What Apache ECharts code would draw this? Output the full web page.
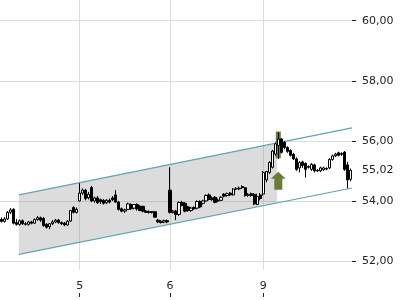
<!DOCTYPE html>
<html><head><meta charset="utf-8">
<script src="https://cdn.jsdelivr.net/npm/echarts@6/dist/echarts.min.js"></script>
<style>html,body{margin:0;padding:0;background:#fff}#c{width:400px;height:300px}</style>
</head><body><div id="c"></div>
<script>
// ---- data ----
const opens = [53.38,53.32,53.40,53.62,53.72,53.28,53.22,53.34,53.24,53.22,53.30,53.26,53.38,53.44,53.42,53.22,53.14,53.24,53.30,53.36,53.28,53.26,53.20,53.33,53.78,53.62,
54.00,54.26,54.36,54.10,54.45,54.00,54.10,54.04,54.02,53.94,54.02,54.10,54.20,53.96,53.74,53.66,53.72,53.88,53.76,53.88,53.82,53.82,53.66,53.64,53.62,53.64,53.36,53.28,53.30,53.34,
54.36,53.62,53.66,53.55,53.95,53.92,53.80,53.68,53.78,53.76,53.98,53.92,54.00,54.20,54.10,54.12,54.00,54.02,54.22,54.18,54.26,54.20,54.40,54.42,54.48,54.44,54.18,54.24,54.22,53.88,54.20,
54.23,54.70,54.95,55.12,55.56,55.84,56.06,55.95,55.78,55.68,55.55,55.40,55.10,55.30,55.25,55.12,55.05,55.20,55.00,55.00,55.04,55.08,55.10,55.38,55.50,55.60,55.55,55.62,55.20,54.72];
const closes = [53.32,53.40,53.62,53.70,53.26,53.22,53.34,53.24,53.22,53.30,53.26,53.38,53.44,53.36,53.18,53.12,53.24,53.30,53.36,53.28,53.24,53.20,53.32,53.68,53.62,53.72,
54.26,54.36,54.08,54.22,54.00,54.10,53.94,53.98,53.92,54.02,53.96,54.04,53.96,53.72,53.66,53.70,53.90,53.74,53.88,53.74,53.68,53.66,53.62,53.62,53.64,53.46,53.30,53.32,53.34,53.30,
53.62,53.66,53.55,53.95,53.85,53.66,53.68,53.76,53.74,53.98,53.80,54.00,54.18,54.05,54.05,53.95,54.02,54.12,54.16,54.24,54.20,54.40,54.42,54.40,54.44,54.18,54.22,54.18,53.90,54.15,54.08,
54.95,54.98,55.28,55.66,55.90,56.06,55.62,55.78,55.65,55.52,55.40,55.05,55.28,55.18,55.05,55.15,55.22,55.00,55.02,55.10,55.10,55.06,55.38,55.50,55.56,55.52,55.58,55.05,54.70,55.02];
const lows = [53.28,53.28,53.36,53.56,53.22,53.18,53.18,53.20,53.18,53.18,53.22,53.24,53.34,53.30,53.14,53.08,53.06,53.20,53.26,53.24,53.20,53.16,53.18,53.30,53.58,53.58,
53.98,54.20,54.02,54.05,53.96,53.94,53.90,53.90,53.88,53.90,53.92,54.00,53.94,53.68,53.62,53.60,53.70,53.70,53.72,53.68,53.66,53.62,53.60,53.58,53.58,53.44,53.26,53.25,53.26,53.26,
53.58,53.58,53.36,53.50,53.82,53.62,53.64,53.64,53.70,53.72,53.76,53.88,53.98,54.02,54.00,53.92,53.96,54.00,54.12,54.14,54.16,54.18,54.36,54.36,54.40,54.14,54.14,54.14,53.86,53.86,54.02,
54.18,54.62,54.90,55.08,55.50,55.40,55.58,55.72,55.60,55.48,55.36,55.00,54.95,55.10,54.78,55.08,55.00,54.95,54.96,54.96,55.00,55.02,55.06,55.34,55.46,55.48,55.50,55.00,54.42,54.65];
const highs = [53.45,53.46,53.66,53.76,53.76,53.40,53.38,53.38,53.30,53.33,53.34,53.42,53.50,53.48,53.46,53.26,53.26,53.36,53.40,53.40,53.32,53.30,53.36,53.70,53.82,53.78,
54.59,54.42,54.40,54.30,54.50,54.14,54.16,54.08,54.06,54.06,54.08,54.16,54.36,54.00,53.78,53.74,53.94,53.92,53.90,53.92,53.86,53.84,53.70,53.68,53.66,53.66,53.40,53.36,53.38,53.38,
55.12,53.70,53.70,53.98,54.00,53.96,53.84,53.80,53.82,54.02,54.02,54.04,54.22,54.25,54.15,54.16,54.08,54.16,54.26,54.28,54.30,54.42,54.46,54.48,54.52,54.46,54.26,54.28,54.26,54.24,54.26,
55.00,55.00,55.32,55.70,55.95,56.28,56.10,56.00,55.82,55.72,55.60,55.45,55.32,55.34,55.28,55.18,55.26,55.24,55.06,55.14,55.14,55.12,55.42,55.54,55.60,55.64,55.62,55.66,55.30,55.08];
const dayStartIdx = [26, 56, 87];
const dayLabels = ['5', '6', '9'];
const yTickValues = [52, 54, 56, 58, 60];
const lastPrice = 55.02;
// trend channel: x in candle index units, values in price
const channelX = [5.8, 116.5];
const channelUpper = [54.20, 56.43];
const channelLower = [52.22, 54.43];
const channelFillEndX = 91.6;
// signal marker (highlighted candle range and arrow)
const signalIdx = 92;
const signalRange = [55.42, 56.31];
const arrowRange = [54.37, 54.97];

// ---- chart ----
const N = opens.length;
const cats = opens.map((_, i) => i);
const candles = opens.map((o, i) => [o, closes[i], lows[i], highs[i]]);
const lerp = (a, b, t) => a + (b - a) * t;
const tFill = (channelFillEndX - channelX[0]) / (channelX[1] - channelX[0]);
const fmt = v => v.toFixed(2).replace('.', ',');
const font = 'DejaVu Sans';
const olive = '#6b7c3a';

const chart = echarts.init(document.getElementById('c'), null, {renderer: 'canvas'});
chart.setOption({
  animation: false,
  backgroundColor: '#fff',
  grid: {left: 0, right: 48, top: 0, bottom: 30},
  xAxis: [
    {type: 'category', data: cats, boundaryGap: true, show: false},
    {type: 'value', min: -0.5, max: N - 0.5, position: 'bottom', offset: 27,
     axisLine: {show: false, onZero: false},
     axisTick: {show: true, inside: true, length: 4, customValues: dayStartIdx, lineStyle: {color: '#222'}},
     axisLabel: {show: true, inside: true, margin: 5, customValues: dayStartIdx,
       formatter: v => dayLabels[dayStartIdx.indexOf(v)] || '', color: '#222', fontFamily: font, fontSize: 11},
     splitLine: {show: true, lineStyle: {color: '#dcdcdc', width: 1}}}
  ],
  yAxis: [{
    type: 'value', position: 'right', min: 51.70, max: 60.69, scale: true,
    axisLine: {show: false, onZero: false},
    axisTick: {show: true, length: 4, customValues: yTickValues, lineStyle: {color: '#222'}},
    axisLabel: {show: true, margin: 10, customValues: yTickValues.concat([lastPrice]),
      formatter: v => fmt(v), color: '#222', fontFamily: font, fontSize: 11},
    splitLine: {show: true, lineStyle: {color: '#dcdcdc', width: 1}}
  }],
  series: [
    {
      type: 'custom', xAxisIndex: 1, yAxisIndex: 0, silent: true, z: 1,
      data: [[channelX[0], channelUpper[0]]],
      renderItem: (params, api) => {
        const pts = [
          api.coord([channelX[0], channelUpper[0]]),
          api.coord([channelFillEndX, lerp(channelUpper[0], channelUpper[1], tFill)]),
          api.coord([channelFillEndX, lerp(channelLower[0], channelLower[1], tFill)]),
          api.coord([channelX[0], channelLower[0]])
        ];
        return {type: 'polygon', shape: {points: pts}, style: {fill: 'rgba(150,150,150,0.33)'}};
      }
    },
    {type: 'line', xAxisIndex: 1, yAxisIndex: 0, silent: true, z: 3, symbol: 'none',
     data: [[channelX[0], channelUpper[0]], [channelX[1], channelUpper[1]]],
     lineStyle: {color: '#64a3a9', width: 1.2}},
    {type: 'line', xAxisIndex: 1, yAxisIndex: 0, silent: true, z: 3, symbol: 'none',
     data: [[channelX[0], channelLower[0]], [channelX[1], channelLower[1]]],
     lineStyle: {color: '#64a3a9', width: 1.2}},
    {
      type: 'custom', xAxisIndex: 1, yAxisIndex: 0, silent: true, z: 4,
      data: [[signalIdx, signalRange[1]]],
      renderItem: (params, api) => {
        const top = api.coord([signalIdx, signalRange[1]]);
        const bot = api.coord([signalIdx, signalRange[0]]);
        return {type: 'rect', shape: {x: top[0] - 2.5, y: top[1], width: 5, height: bot[1] - top[1]},
                style: {fill: olive}};
      }
    },
    {
      type: 'candlestick', xAxisIndex: 0, yAxisIndex: 0, z: 5, silent: true,
      data: candles, barWidth: 2.8,
      itemStyle: {color: '#ffffff', color0: '#000000', borderColor: '#000000', borderColor0: '#000000', borderWidth: 1}
    },
    {
      type: 'custom', xAxisIndex: 1, yAxisIndex: 0, silent: true, z: 6,
      data: [[signalIdx, arrowRange[1]]],
      renderItem: (params, api) => {
        const tip = api.coord([signalIdx, arrowRange[1]]);
        const base = api.coord([signalIdx, arrowRange[0]]);
        const cx = tip[0], hy = tip[1] + 7;
        const pts = [[cx, tip[1]], [cx + 7.5, hy], [cx + 4, hy], [cx + 4, base[1]],
                     [cx - 4, base[1]], [cx - 4, hy], [cx - 7.5, hy]];
        return {type: 'polygon', shape: {points: pts}, style: {fill: olive}};
      }
    }
  ]
});
</script>
</body></html>
